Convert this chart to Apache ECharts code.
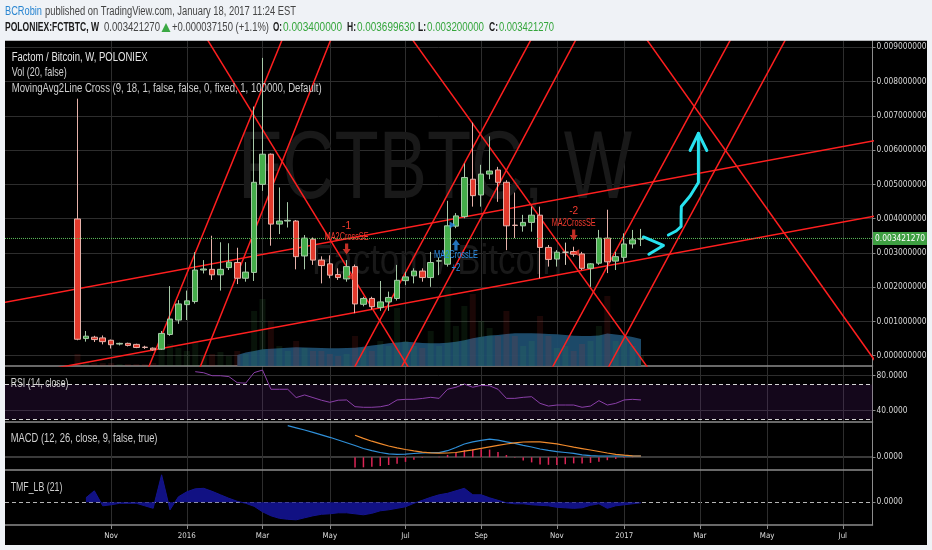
<!DOCTYPE html>
<html><head><meta charset="utf-8">
<script src="https://cdn.jsdelivr.net/npm/echarts@6/dist/echarts.min.js"></script>
<style>html,body{margin:0;padding:0;background:#eff2f6}#c{width:932px;height:550px}</style>
</head><body><div id="c"></div><script>
// ---------------- DATA ----------------
const firstWeek = '2015-10-05';            // week index 0
const monthTicks  = [4, 13, 22, 30, 39, 48, 57, 65, 74, 82, 91];
const monthLabels = ['Nov','2016','Mar','May','Jul','Sep','Nov','2017','Mar','May','Jul'];
const priceTicks = [0,0.001,0.002,0.003,0.004,0.005,0.006,0.007,0.008,0.009];
const rsiTicks = [40, 80];
const zeroTicks = [0];

const openP = [0.00399,0.00050,0.00054,0.00052,0.00045,0.00034,0.00036,0.00033,0.00025,0.00022,
 0.00019,0.00062,0.00104,0.00149,0.00158,0.00250,0.00252,0.00236,0.00257,0.00272,
 0.00226,0.00243,0.00500,0.00588,0.00384,0.00393,0.00393,0.00291,0.00340,0.00279,
 0.00268,0.00237,0.00224,0.00260,0.00150,0.00167,0.00141,0.00157,0.00167,0.00219,
 0.00233,0.00247,0.00228,0.00276,0.00267,0.00378,0.00406,0.00515,0.00469,0.00530,
 0.00542,0.00506,0.00381,0.00379,0.00389,0.00410,0.00316,0.00282,0.00302,0.00304,
 0.00297,0.00255,0.00270,0.00343,0.00276,0.00287,0.00326,0.00340];
const closeP = [0.00048,0.00057,0.00047,0.00041,0.00032,0.00036,0.00030,0.00024,0.00024,0.00017,
 0.00065,0.00107,0.00151,0.00160,0.00250,0.00253,0.00236,0.00252,0.00273,0.00226,
 0.00244,0.00506,0.00588,0.00384,0.00393,0.00395,0.00289,0.00343,0.00279,0.00263,
 0.00235,0.00228,0.00260,0.00151,0.00167,0.00143,0.00157,0.00170,0.00220,0.00230,
 0.00247,0.00228,0.00272,0.00277,0.00379,0.00408,0.00520,0.00467,0.00530,0.00539,
 0.00506,0.00379,0.00380,0.00389,0.00410,0.00316,0.00281,0.00302,0.00302,0.00296,
 0.00255,0.00268,0.00343,0.00274,0.00289,0.00326,0.00338,0.00342127];
const lowP = [0.00045,0.00041,0.00040,0.00033,0.00021,0.00030,0.00027,0.00022,0.00020,0.00015,
 0.00017,0.00058,0.00093,0.00104,0.00152,0.00240,0.00221,0.00190,0.00250,0.00209,
 0.00216,0.00218,0.00481,0.00321,0.00355,0.00374,0.00252,0.00252,0.00265,0.00211,
 0.00226,0.00221,0.00216,0.00124,0.00144,0.00135,0.00131,0.00131,0.00161,0.00206,
 0.00211,0.00216,0.00201,0.00235,0.00260,0.00372,0.00401,0.00435,0.00435,0.00515,
 0.00449,0.00308,0.00343,0.00362,0.00362,0.00226,0.00260,0.00260,0.00265,0.00289,
 0.00250,0.00201,0.00265,0.00241,0.00250,0.00274,0.00313,0.00320];
const highP = [0.00750,0.00072,0.00058,0.00059,0.00047,0.00038,0.00038,0.00035,0.00029,0.00024,
 0.00072,0.00203,0.00162,0.00190,0.00302,0.00279,0.00350,0.00331,0.00328,0.00315,
 0.00273,0.00727,0.00869,0.00590,0.00491,0.00448,0.00396,0.00352,0.00345,0.00290,
 0.00293,0.00255,0.00279,0.00266,0.00172,0.00172,0.00218,0.00187,0.00265,0.00245,
 0.00255,0.00255,0.00303,0.00287,0.00452,0.00416,0.00561,0.00680,0.00557,0.00640,
 0.00551,0.00512,0.00476,0.00411,0.00435,0.00435,0.00323,0.00308,0.00330,0.00318,
 0.00303,0.00270,0.00367,0.00426,0.00303,0.00357,0.00367,0.00369963];
const lastPrice = 0.00342127;

const volume = [120,40,30,30,30,20,20,20,20,30, 180,220,180,150,250,100,120,140,100,150,
 120,550,670,450,200,150,250,180,150,150, 120,100,120,300,180,150,250,200,580,250,
 200,180,350,200,800,400,600,720,450,380, 300,550,300,200,250,500,300,180,200,150,
 220,250,400,700,250,300,200,100];
const volMAStart = 19;
const volMA = [110,135,150,167,173,178,182,187,185,183, 181,178,177,180,183,192,205,215,227,235,
 242,238,230,227,227,232,243,257,278,293, 304,310,320,327,327,327,325,320,317,310,
 303,300,300,305,325,315,305,290,270];

const rsiStart = 14;
const rsi = [84.6,83.4,80,80,79,72,71.5,83.5,86.5,64.5, 64.5,64.5,55,58,55,52,49.6,52,52.3,44.6,
 43.9,43.9,44.5,46.5,52.3,53,53,54,55.3,54.1, 64.5,66.8,70.5,66.8,69,68.5,64.5,54.1,54.1,55.3,
 56,48.4,45.3,46.5,46.5,46.5,43.9,45.3,51.5,46.5, 48.4,52.3,53,52.3];

const macdStart = 25;
const macd = [0.000315,0.000294,0.000272,0.000248,0.000224,0.000199,0.000172,0.000145,0.000117,0.000087,
 0.000065,0.000047,0.000034,0.000029,0.000030,0.000037,0.000044,0.000045,0.000045,0.000065,
 0.000097,0.000132,0.000154,0.000169,0.000180,0.000170,0.000154,0.000138,0.000119,0.000102,
 0.000082,0.000068,0.000056,0.000047,0.000038,0.000024,0.000015,0.000012,0.000012,0.000012,
 0.000012,0.000012,0.000012];
const signalStart = 33;
const signal = [0.000220,0.000188,0.000160,0.000136,0.000112,0.000094,0.000077,0.000063,0.000050,0.000044,
 0.000040,0.000042,0.000047,0.000060,0.000074,0.000089,0.000104,0.000119,0.000132,0.000143,
 0.000152,0.000154,0.000154,0.000144,0.000133,0.000117,0.000100,0.000086,0.000072,0.000057,
 0.000042,0.000029,0.000020,0.000014,0.000012];
const hist = [-0.000103,-0.000101,-0.000095,-0.000089,-0.000078,-0.000065,-0.000047,-0.000026,-0.000006,0.000001,
 0.000005,0.000023,0.000050,0.000072,0.000080,0.000080,0.000076,0.000051,0.000022,-0.000005,
 -0.000033,-0.000052,-0.000072,-0.000076,-0.000077,-0.000070,-0.000062,-0.000062,-0.000057,-0.000045,
 -0.000030,-0.000017,-0.000008,-0.000002,0];

const tmfStart = 1;
const tmf = [0.09,0.23,-0.07,-0.05,-0.02,-0.02,-0.02,-0.07,-0.12,0.55,
 -0.15,0.11,0.21,0.27,0.28,0.22,0.15,0.08,0.02,-0.02,
 -0.08,-0.19,-0.27,-0.32,-0.34,-0.35,-0.31,-0.27,-0.24,-0.23,
 -0.21,-0.21,-0.23,-0.25,-0.22,-0.17,-0.15,-0.12,-0.09,-0.02,
 0.04,0.10,0.15,0.18,0.23,0.28,0.15,0.15,0.09,0.04,
 -0.01,-0.03,-0.03,-0.05,-0.06,-0.07,-0.10,-0.11,-0.12,-0.11,
 -0.06,-0.03,-0.12,-0.07,-0.05,-0.03,-0.01];

// drawn trend lines: [[week, price],[week, price]]
const trendLines = [
 [[-9.20,-0.000662],[97.81,0.004213]],
 [[-9.20,0.001532],[97.81,0.006411]],
 [[7.84,-0.000709],[25.29,0.009796]],
 [[13.97,-0.000709],[31.05,0.009796]],
 [[32.12,-0.000709],[55.18,0.009796]],
 [[37.71,-0.000709],[60.51,0.009796]],
 [[55.65,-0.000709],[78.92,0.009796]],
 [[62.31,-0.000709],[85.45,0.009796]],
 [[14.01,0.009796],[40.27,-0.000709]],
 [[38.15,0.009796],[68.86,-0.000709]],
 [[66.03,0.009796],[96.45,-0.000709]]
];
// hand-drawn cyan arrows
const cyanPaths = [
 [[67.29,0.003464],[69.67,0.003216],[67.94,0.002959]],
 [[70.26,0.003522],[71.18,0.003639],[71.77,0.003770],[71.77,0.004106],[71.80,0.004354],[72.84,0.004660],[73.83,0.005054],[73.83,0.006490]],
 [[72.84,0.005988],[73.83,0.006490],[74.83,0.005988]]
];
// strategy signals
const signals = [
 {w:32, color:'#f23a2e', qty:'-1', qtyP:0.003764, label:'MA2CrossSE', labelP:0.003455, dir:'down', arrowP:0.003113},
 {w:45, color:'#2a8fe8', qty:'+2', qtyP:0.002550, label:'MA2CrossLE', labelP:0.002918, dir:'up', arrowP:0.003230},
 {w:59, color:'#f23a2e', qty:'-2', qtyP:0.004222, label:'MA2CrossSE', labelP:0.003863, dir:'down', arrowP:0.003522}
];
const fills = [
 {w:32.4, p:0.002305, dir:'left', color:'#f23a2e'},
 {w:44.6, p:0.003814, dir:'right', color:'#2a8fe8'},
 {w:59.3, p:0.003006, dir:'left', color:'#f23a2e'}
];

// ---------------- helpers ----------------
const mctx = document.createElement('canvas').getContext('2d');
function textW(t, font){ mctx.font = font; return mctx.measureText(t).width; }
function hasFont(f){
  const s='0.0123456789 WMwmil';
  return Math.abs(textW(s,'40px monospace') - textW(s,'40px "'+f+'", monospace')) > 0.5;
}
const NARROW = hasFont('Liberation Sans Narrow') ? 'Liberation Sans Narrow'
             : (hasFont('DejaVu Sans Condensed') ? 'DejaVu Sans Condensed' : 'Liberation Sans');
const axisFs = Math.min(11, 10 * 50 / textW('0.009000000', '10px "'+NARROW+'"'));
const xFs = Math.min(11, 10 * 18 / textW('2016', '10px "'+NARROW+'"'));

const G = [];
function fitText(text, x, y, w, size, color, o){
  o = o || {};
  const fam = o.family || 'Liberation Sans';
  const weight = o.weight || 'normal';
  const font = weight + ' ' + size + 'px "' + fam + '"';
  const sx = w / textW(text, font);
  const al = o.align || 'left';
  G.push({type:'text', x:x, y:y, scaleX:sx, z:(o.z==null?60:o.z), silent:true,
    style:{text:text, fill:color, font:font, textAlign:al, align:al, textVerticalAlign:'middle', verticalAlign:'middle'}});
}

// ---------------- option ----------------
const X_MIN = -8.62, X_MAX = 94.53;
const GRID_COL = '#2d2d2d';
function xAxisCfg(gi, labels){
  return {type:'value', gridIndex:gi, min:X_MIN, max:X_MAX,
    axisLine:{show:true, onZero:false, lineStyle:{color:'#8c8c8c', width:1.5}},
    axisTick:{show:labels, customValues:monthTicks, length:4, lineStyle:{color:'#888'}},
    axisLabel:{show:labels, customValues:monthTicks, color:'#dcdcdc', fontFamily:NARROW, fontSize:xFs, margin:7,
      formatter:function(v){ const k = monthTicks.indexOf(v); return k>=0 ? monthLabels[k] : ''; }},
    splitLine:{show:true, lineStyle:{color:GRID_COL, width:1}}};
}
function yAxisCfg(gi, min, max, ticks, fmt, split){
  return {type:'value', gridIndex:gi, position:'right', min:min, max:max,
    axisLine:{show:true, onZero:false, lineStyle:{color:'#8c8c8c', width:1}},
    axisTick:{show:true, customValues:ticks, length:3, lineStyle:{color:'#888'}},
    axisLabel:{customValues:ticks, formatter:fmt, color:'#d6d6d6', fontFamily:NARROW, fontSize:axisFs, margin:4},
    splitLine:split || {show:true, lineStyle:{color:GRID_COL, width:1}}};
}

const candleData = openP.map((o,i)=>[i, o, closeP[i], lowP[i], highP[i]]);
const series = [];
series.push({type:'bar', name:'vol', xAxisIndex:0, yAxisIndex:1, barWidth:6, z:2, silent:true,
  data: volume.map((v,i)=>({value:[i,v], itemStyle:{color: closeP[i]>=openP[i] ? 'rgba(70,175,80,0.11)' : 'rgba(225,60,50,0.12)'}}))});
series.push({type:'line', name:'volma', xAxisIndex:0, yAxisIndex:1, z:2, silent:true, symbol:'none',
  lineStyle:{width:0}, areaStyle:{color:'#1d4d6e', opacity:0.95},
  data: volMA.map((v,k)=>[k+volMAStart, v])});
trendLines.forEach(function(l){
  series.push({type:'line', xAxisIndex:0, yAxisIndex:0, z:3, silent:true, symbol:'none', clip:true,
    lineStyle:{color:'#ff1f1f', width:1.5}, data:l});
});
series.push({type:'candlestick', xAxisIndex:0, yAxisIndex:0, z:4, silent:true, barWidth:6, data:candleData,
  itemStyle:{color:'#45ad4b', color0:'#e23a2c', borderColor:'#a7c9a8', borderColor0:'#e6b2aa', borderColorDoji:'#d8d0c0', borderWidth:1}});
// last price line (own series so its mark line uses the price scale exactly)
series.push({type:'line', xAxisIndex:0, yAxisIndex:0, z:5, silent:true, symbol:'none',
  lineStyle:{color:'#5cbf5c', type:'dotted', width:1}, data:[[X_MIN, lastPrice],[X_MAX, lastPrice]],
  markPoint:{silent:true, symbol:'rect', symbolSize:[1,1], itemStyle:{color:'rgba(0,0,0,0)'},
    label:{show:true, position:'right', distance:0, formatter:lastPrice.toFixed(9), color:'#ffffff',
      backgroundColor:'#3e9f42', padding:[3,2,2,2], fontFamily:NARROW, fontSize:axisFs},
    data:[{coord:[X_MAX, lastPrice]}]}});
cyanPaths.forEach(function(p){
  series.push({type:'line', xAxisIndex:0, yAxisIndex:0, z:6, silent:true, symbol:'none',
    lineStyle:{color:'#27e2ef', width:3, cap:'round', join:'round'}, data:p});
});
const downArrow = 'path://M3,0L7,0L7,6L10,6L5,12L0,6L3,6Z';
const upArrow = 'path://M5,0L10,6L7,6L7,12L3,12L3,6L0,6Z';
series.push({type:'scatter', xAxisIndex:0, yAxisIndex:0, z:7, silent:true,
  data: signals.map(s=>({value:[s.w, s.arrowP], symbol: s.dir==='down'?downArrow:upArrow, symbolSize:[8,11], itemStyle:{color:s.color}}))});
series.push({type:'scatter', xAxisIndex:0, yAxisIndex:0, z:7, silent:true,
  data: fills.map(f=>({value:[f.w, f.p], symbol:'triangle', symbolRotate: f.dir==='left'?90:-90, symbolSize:[7,6], itemStyle:{color:f.color}}))});
// RSI
series.push({type:'line', xAxisIndex:1, yAxisIndex:2, z:3, silent:true, symbol:'none',
  lineStyle:{color:'#8a3fa8', width:1}, data: rsi.map((v,k)=>[k+rsiStart, v]),
  markArea:{silent:true, itemStyle:{color:'rgba(120,40,160,0.17)'}, data:[[{yAxis:30},{yAxis:70}]]},
  markLine:{silent:true, symbol:'none', label:{show:false}, lineStyle:{color:'#d6d6d6', type:[4,3], width:1},
    data:[{yAxis:70},{yAxis:30}]}});
// MACD
series.push({type:'bar', xAxisIndex:2, yAxisIndex:3, z:3, silent:true, barWidth:1.5,
  itemStyle:{color:'#dc2455'}, data: hist.map((v,k)=>[k+signalStart, v])});
series.push({type:'line', xAxisIndex:2, yAxisIndex:3, z:4, silent:true, symbol:'none',
  lineStyle:{color:'#2f8fd8', width:1.2}, data: macd.map((v,k)=>[k+macdStart, v])});
series.push({type:'line', xAxisIndex:2, yAxisIndex:3, z:4, silent:true, symbol:'none',
  lineStyle:{color:'#f08a2c', width:1.2}, data: signal.map((v,k)=>[k+signalStart, v])});
// TMF
series.push({type:'line', xAxisIndex:3, yAxisIndex:4, z:3, silent:true, symbol:'none',
  lineStyle:{color:'#14148c', width:1}, areaStyle:{color:'#12128a', opacity:0.95},
  data: tmf.map((v,k)=>[k+tmfStart, v])});

const option = {
  animation:false,
  backgroundColor:'#000000',
  grid:[
    {left:5, top:41, width:867.5, height:325, outerBoundsMode:'none', containLabel:false},
    {left:5, top:366, width:867.5, height:56, outerBoundsMode:'none', containLabel:false},
    {left:5, top:422, width:867.5, height:48, outerBoundsMode:'none', containLabel:false},
    {left:5, top:470, width:867.5, height:55, outerBoundsMode:'none', containLabel:false}
  ],
  xAxis:[xAxisCfg(0,false), xAxisCfg(1,false), xAxisCfg(2,false), xAxisCfg(3,true)],
  yAxis:[
    yAxisCfg(0, -0.0003006, 0.009183, priceTicks, v=>v.toFixed(9)),
    {type:'value', gridIndex:0, min:0, max:3250, show:false},
    yAxisCfg(1, 27.09, 91.09, rsiTicks, v=>v.toFixed(4)),
    yAxisCfg(2, -0.000128, 0.000352, zeroTicks, v=>'0.0000', {show:true, lineStyle:{color:'#3a3a3a', width:2}}),
    yAxisCfg(3, -0.454, 0.646, zeroTicks, v=>'0.0000', {show:true, lineStyle:{color:'#b5b5b5', width:1, type:[4,3]}})
  ],
  series:series
};

const chart = echarts.init(document.getElementById('c'), null, {renderer:'canvas'});
chart.setOption(option);

// ---------- frame / header / texts ----------
const LIGHT = '#eff2f6';
G.push({type:'rect', z:100, silent:true, shape:{x:0,y:0,width:932,height:40.7}, style:{fill:LIGHT}});
G.push({type:'rect', z:100, silent:true, shape:{x:0,y:0,width:5,height:550}, style:{fill:LIGHT}});
G.push({type:'rect', z:100, silent:true, shape:{x:927,y:0,width:5,height:550}, style:{fill:LIGHT}});
G.push({type:'rect', z:100, silent:true, shape:{x:0,y:545,width:932,height:5}, style:{fill:LIGHT}});

fitText('BCRobin', 5, 11.7, 37, 12, '#2a86d1', {z:101});
fitText('published on TradingView.com, January 18, 2017 11:24 EST', 45, 11.7, 251, 12, '#444444', {z:101});
fitText('POLONIEX:FCTBTC, W', 5, 27.7, 94, 12, '#1a1a1a', {z:101, weight:'bold'});
fitText('0.003421270', 104, 27.7, 56, 12, '#444444', {z:101});
G.push({type:'polygon', z:101, silent:true, shape:{points:[[161.5,32],[166,23],[170.5,32]]}, style:{fill:'#3aa843'}});
fitText('+0.000037150 (+1.1%)', 172, 27.7, 97, 12, '#444444', {z:101});
fitText('O:', 273, 27.7, 9, 12, '#1a1a1a', {z:101, weight:'bold'});
fitText('0.003400000', 283, 27.7, 59, 12, '#35a63c', {z:101});
fitText('H:', 347, 27.7, 9, 12, '#1a1a1a', {z:101, weight:'bold'});
fitText('0.003699630', 357, 27.7, 58, 12, '#35a63c', {z:101});
fitText('L:', 418, 27.7, 8, 12, '#1a1a1a', {z:101, weight:'bold'});
fitText('0.003200000', 427, 27.7, 57, 12, '#35a63c', {z:101});
fitText('C:', 489, 27.7, 9, 12, '#1a1a1a', {z:101, weight:'bold'});
fitText('0.003421270', 499, 27.7, 55, 12, '#35a63c', {z:101});

// watermark
fitText('FCTBTC, W', 238, 172, 394, 96, '#191919', {z:1});
fitText('Factom / Bitcoin', 437, 262, 250, 42, '#191919', {z:1, align:'center'});

// pane legends
fitText('Factom / Bitcoin, W, POLONIEX', 11.7, 57.3, 136, 12, '#e6e6e6');
fitText('Vol (20, false)', 11.7, 72.7, 55, 12, '#d0d0d0');
fitText('MovingAvg2Line Cross (9, 18, 1, false, false, 0, fixed, 1, 100000, Default)', 11.7, 89, 310, 12, '#d0d0d0');
fitText('RSI (14, close)', 10.7, 384, 57.7, 12, '#d0d0d0');
fitText('MACD (12, 26, close, 9, false, true)', 10.7, 439, 146.8, 12, '#d0d0d0');
fitText('TMF_LB (21)', 10.7, 487.3, 51.7, 12, '#d0d0d0');

// signal labels positioned through the price scales
signals.forEach(function(s){
  const a = chart.convertToPixel({xAxisIndex:0, yAxisIndex:0}, [s.w, s.labelP]);
  const b = chart.convertToPixel({xAxisIndex:0, yAxisIndex:0}, [s.w, s.qtyP]);
  fitText(s.label, a[0], a[1], 44, 10, s.color, {align:'center', z:8});
  fitText(s.qty, b[0], b[1], s.qty.length*4.5, 10, s.color, {align:'center', z:8});
});

chart.setOption({graphic:{elements:G}});
</script></body></html>
